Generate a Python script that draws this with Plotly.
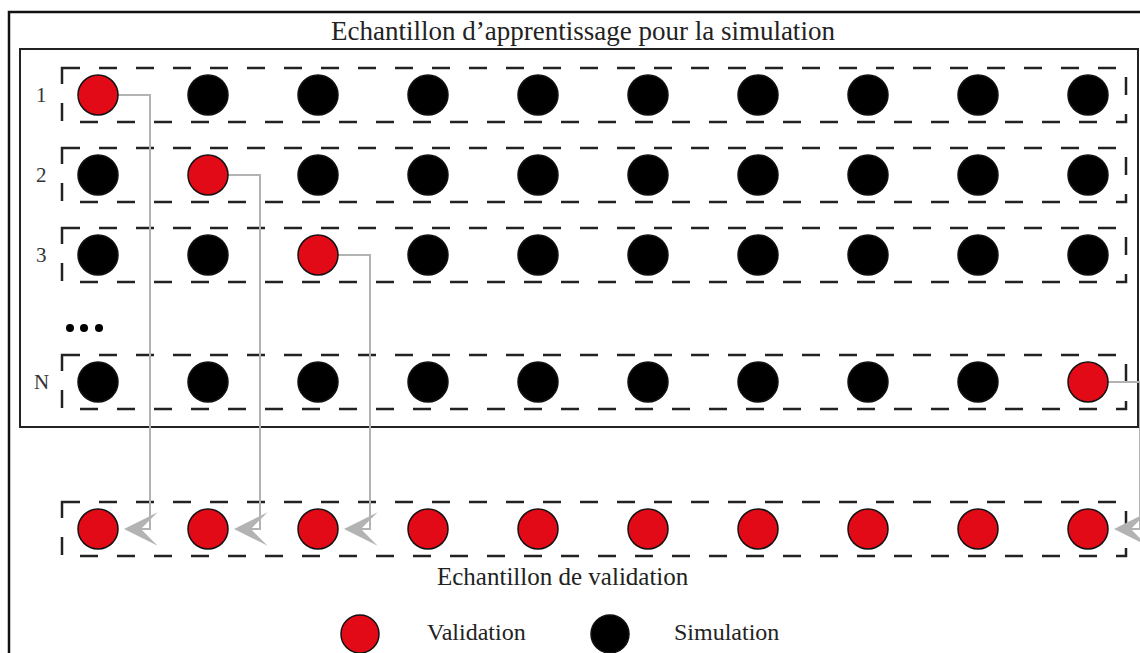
import plotly.graph_objects as go

# ---- data ----
row_labels = ["1", "2", "3", "N"]
n_samples = 10
validation_idx = [0, 1, 2, 9]
legend_labels = ["Validation", "Simulation"]
title_top = "Echantillon d\u2019apprentissage pour la simulation"
title_bottom = "Echantillon de validation"

# ---- layout constants (pixel space) ----
W, H = 1140, 653
X0, DX = 98, 110
ROW_Y = [95, 175, 255, 382]
VAL_Y = 529
R = 20
RED = "#E20A17"
GRAY = "#B3B3B3"
FONT = "Liberation Serif"

fig = go.Figure()
shapes = []
annotations = []

# outer and inner boxes
shapes.append(dict(type="rect", x0=9, y0=12, x1=1160, y1=700,
                   line=dict(color="#111", width=2.5), layer="below"))
shapes.append(dict(type="rect", x0=20, y0=49, x1=1138, y1=427,
                   line=dict(color="#222", width=2), layer="below"))

# dashed row boxes
for y in ROW_Y + [VAL_Y]:
    shapes.append(dict(type="rect", x0=62, y0=y - 27, x1=1126, y1=y + 27,
                       line=dict(color="#222", width=2.5, dash="18px,19px"),
                       layer="below"))

xs = [X0 + DX * i for i in range(n_samples)]

# gray connector lines
for r, vi in enumerate(validation_idx):
    cx = xs[vi]
    vx = cx + R + 32
    fig.add_trace(go.Scatter(
        x=[cx + R, vx, vx, cx + R + 16], y=[ROW_Y[r], ROW_Y[r], VAL_Y, VAL_Y],
        mode="lines", line=dict(color=GRAY, width=2), hoverinfo="skip",
        showlegend=False))
    annotations.append(dict(x=cx + R + 6, y=VAL_Y, ax=cx + R + 30, ay=VAL_Y,
                            xref="x", yref="y", axref="x", ayref="y",
                            text="", showarrow=True, arrowhead=3, arrowsize=2.8,
                            arrowwidth=2, arrowcolor=GRAY, standoff=0))

# sample circles in rows
for r, lab in enumerate(row_labels):
    colors = [RED if i == validation_idx[r] else "black" for i in range(n_samples)]
    fig.add_trace(go.Scatter(
        x=xs, y=[ROW_Y[r]] * n_samples, mode="markers",
        marker=dict(size=2 * R, color=colors, line=dict(color="#111", width=1.5)),
        hoverinfo="skip", showlegend=False))
    annotations.append(dict(x=41, y=ROW_Y[r], text=lab, showarrow=False,
                            xref="x", yref="y",
                            font=dict(family=FONT, size=21, color="#333")))

# validation row
fig.add_trace(go.Scatter(
    x=xs, y=[VAL_Y] * n_samples, mode="markers",
    marker=dict(size=2 * R, color=RED, line=dict(color="#111", width=1.5)),
    hoverinfo="skip", showlegend=False))

# ellipsis dots
fig.add_trace(go.Scatter(
    x=[70, 84, 99], y=[328, 328, 328], mode="markers",
    marker=dict(size=8, color="black"), hoverinfo="skip", showlegend=False))

# legend markers
fig.add_trace(go.Scatter(
    x=[360, 610], y=[634, 634], mode="markers",
    marker=dict(size=38, color=[RED, "black"], line=dict(color="#111", width=1.5)),
    hoverinfo="skip", showlegend=False))
annotations.append(dict(x=425, y=632, text=legend_labels[0], xanchor="left",
                        showarrow=False, xref="x", yref="y",
                        font=dict(family=FONT, size=24, color="#222")))
annotations.append(dict(x=672, y=632, text=legend_labels[1], xanchor="left",
                        showarrow=False, xref="x", yref="y",
                        font=dict(family=FONT, size=24, color="#222")))

# titles
annotations.append(dict(x=583, y=31, text=title_top, showarrow=False,
                        xref="x", yref="y",
                        font=dict(family=FONT, size=27, color="#222")))
annotations.append(dict(x=563, y=576, text=title_bottom, showarrow=False,
                        xref="x", yref="y",
                        font=dict(family=FONT, size=25, color="#222")))

fig.update_layout(
    width=W, height=H, margin=dict(l=0, r=0, t=0, b=0),
    paper_bgcolor="white", plot_bgcolor="white",
    xaxis=dict(range=[0, W], visible=False, fixedrange=True),
    yaxis=dict(range=[H, 0], visible=False, fixedrange=True),
    shapes=shapes, annotations=annotations, showlegend=False,
)

fig.write_html("out.html", config={"displayModeBar": False},
               post_script="document.body.style.margin='0';")
